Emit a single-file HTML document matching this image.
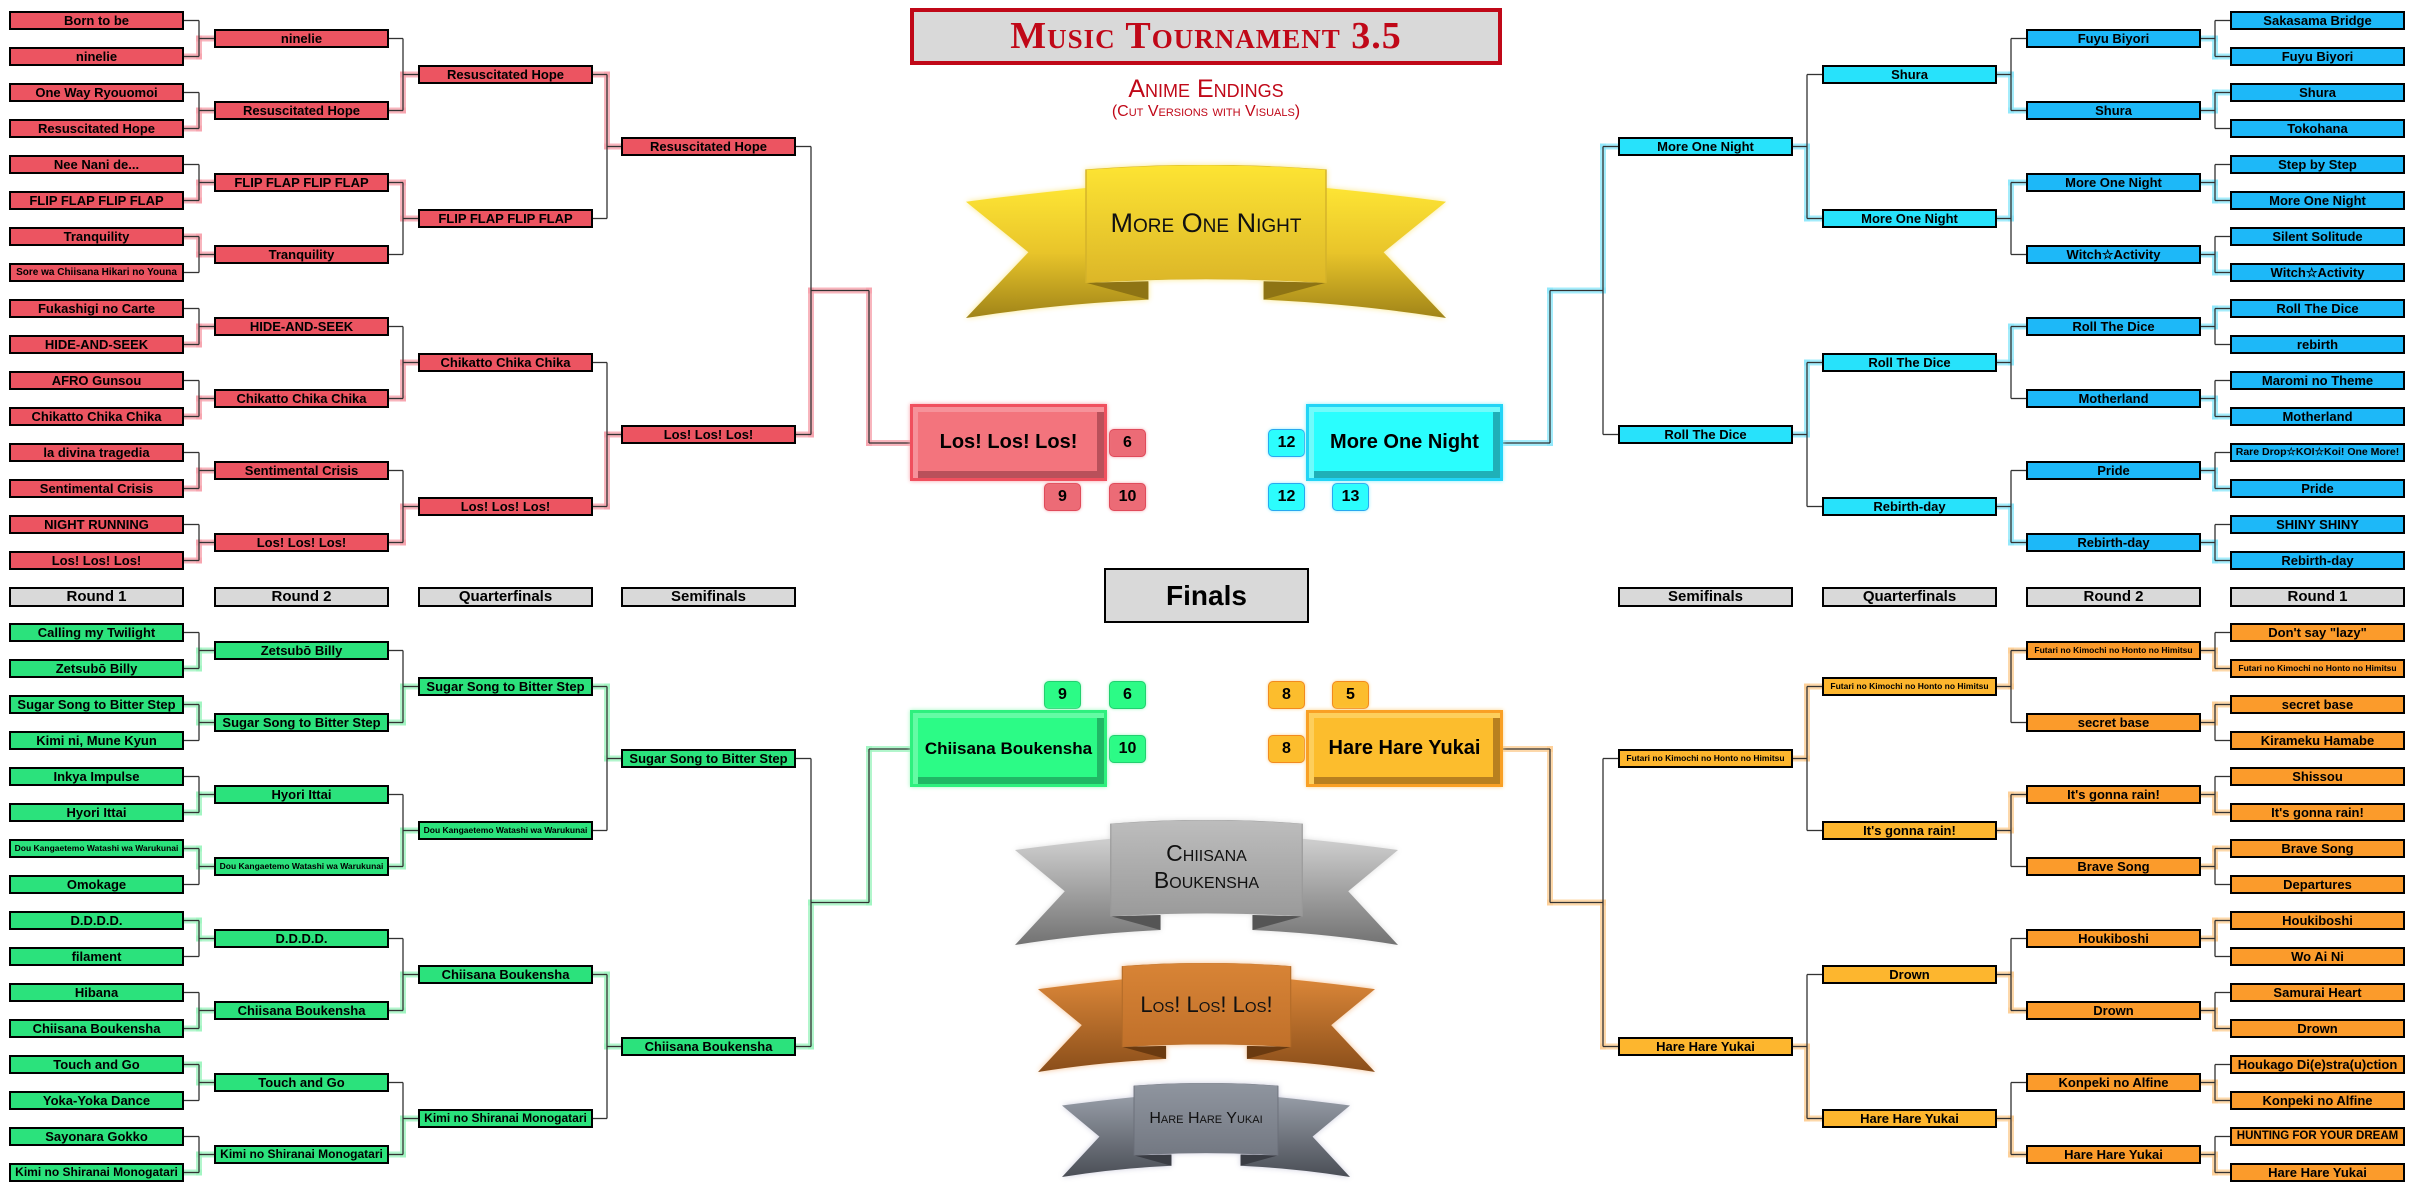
<!DOCTYPE html>
<html><head><meta charset="utf-8">
<style>
html,body{margin:0;padding:0;background:#fff;}
#root{position:relative;width:2418px;height:1192px;overflow:hidden;background:#fff;font-family:"Liberation Sans",sans-serif;}
.col{position:absolute;display:flex;flex-direction:column;width:175px;}
.b{height:19px;box-sizing:border-box;border:2px solid #000;width:175px;text-align:center;font:bold 13px/15px "Liberation Sans",sans-serif;white-space:nowrap;overflow:hidden;color:#000;position:relative;z-index:2;}
.r1{gap:17px}.r2{gap:53px}.qf{gap:125px}.sf{gap:269px}
.red .b{background:#ec5461}
.cy .b{background:#1db8f8}.cy2 .b{background:#27e2fb}
.gr .b{background:#2be27c}
.or .b{background:#fb9b2b}.or2 .b{background:#fdb62e}
.lab{position:absolute;top:587px;height:20px;width:175px;box-sizing:border-box;border:2px solid #000;background:#d9d9d9;text-align:center;font:bold 15px/16px "Liberation Sans",sans-serif;}
svg.lines{position:absolute;left:0;top:0;z-index:1;}
.fin{position:absolute;width:197px;height:77px;box-sizing:border-box;text-align:center;font:bold 20px/71px "Liberation Sans",sans-serif;z-index:2;}
.bd{position:absolute;width:37px;height:28px;box-sizing:border-box;border-radius:5px;text-align:center;font:bold 16px/26px "Liberation Sans",sans-serif;}
.title{position:absolute;left:910px;top:8px;width:592px;height:57px;box-sizing:border-box;border:4px solid #c00818;background:#d9d9d9;text-align:center;color:#c00818;font:bold 38px/49px "Liberation Serif",serif;font-variant:small-caps;letter-spacing:1px;}
.sub{position:absolute;left:910px;width:592px;text-align:center;color:#c00818;font-variant:small-caps;font-family:"Liberation Sans",sans-serif;}
.ban{position:absolute;}
.ban svg{position:absolute;left:0;top:0;width:100%;height:100%;}
.ban .t{position:absolute;text-align:center;font-family:"Liberation Sans",sans-serif;font-variant:small-caps;color:#111;}
</style></head><body><div id="root">

<div class="title">Music Tournament 3.5</div>
<div class="sub" style="top:75px;font-size:25px;line-height:28px;">Anime Endings</div>
<div class="sub" style="top:102px;font-size:16px;line-height:20px;">(Cut Versions with Visuals)</div>

<!-- TOP LEFT -->
<div class="col r1 red" id="tl1" style="left:9px;top:11px">
<div class="b">Born to be</div><div class="b">ninelie</div><div class="b">One Way Ryouomoi</div><div class="b">Resuscitated Hope</div><div class="b">Nee Nani de...</div><div class="b">FLIP FLAP FLIP FLAP</div><div class="b">Tranquility</div><div class="b">Sore wa Chiisana Hikari no Youna</div><div class="b">Fukashigi no Carte</div><div class="b">HIDE-AND-SEEK</div><div class="b">AFRO Gunsou</div><div class="b">Chikatto Chika Chika</div><div class="b">la divina tragedia</div><div class="b">Sentimental Crisis</div><div class="b">NIGHT RUNNING</div><div class="b">Los! Los! Los!</div></div>
<div class="col r2 red" id="tl2" style="left:214px;top:29px">
<div class="b">ninelie</div><div class="b">Resuscitated Hope</div><div class="b">FLIP FLAP FLIP FLAP</div><div class="b">Tranquility</div><div class="b">HIDE-AND-SEEK</div><div class="b">Chikatto Chika Chika</div><div class="b">Sentimental Crisis</div><div class="b">Los! Los! Los!</div></div>
<div class="col qf red" id="tl3" style="left:418px;top:65px">
<div class="b">Resuscitated Hope</div><div class="b">FLIP FLAP FLIP FLAP</div><div class="b">Chikatto Chika Chika</div><div class="b">Los! Los! Los!</div></div>
<div class="col sf red" id="tl4" style="left:621px;top:137px">
<div class="b">Resuscitated Hope</div><div class="b">Los! Los! Los!</div></div>

<!-- TOP RIGHT -->
<div class="col r1 cy" id="tr1" style="left:2230px;top:11px">
<div class="b">Sakasama Bridge</div><div class="b">Fuyu Biyori</div><div class="b">Shura</div><div class="b">Tokohana</div><div class="b">Step by Step</div><div class="b">More One Night</div><div class="b">Silent Solitude</div><div class="b">Witch☆Activity</div><div class="b">Roll The Dice</div><div class="b">rebirth</div><div class="b">Maromi no Theme</div><div class="b">Motherland</div><div class="b">Rare Drop☆KOI☆Koi! One More!</div><div class="b">Pride</div><div class="b">SHINY SHINY</div><div class="b">Rebirth-day</div></div>
<div class="col r2 cy" id="tr2" style="left:2026px;top:29px">
<div class="b">Fuyu Biyori</div><div class="b">Shura</div><div class="b">More One Night</div><div class="b">Witch☆Activity</div><div class="b">Roll The Dice</div><div class="b">Motherland</div><div class="b">Pride</div><div class="b">Rebirth-day</div></div>
<div class="col qf cy2" id="tr3" style="left:1822px;top:65px">
<div class="b">Shura</div><div class="b">More One Night</div><div class="b">Roll The Dice</div><div class="b">Rebirth-day</div></div>
<div class="col sf cy2" id="tr4" style="left:1618px;top:137px">
<div class="b">More One Night</div><div class="b">Roll The Dice</div></div>

<!-- BOTTOM LEFT -->
<div class="col r1 gr" id="bl1" style="left:9px;top:623px">
<div class="b">Calling my Twilight</div><div class="b">Zetsubō Billy</div><div class="b">Sugar Song to Bitter Step</div><div class="b">Kimi ni, Mune Kyun</div><div class="b">Inkya Impulse</div><div class="b">Hyori Ittai</div><div class="b">Dou Kangaetemo Watashi wa Warukunai</div><div class="b">Omokage</div><div class="b">D.D.D.D.</div><div class="b">filament</div><div class="b">Hibana</div><div class="b">Chiisana Boukensha</div><div class="b">Touch and Go</div><div class="b">Yoka-Yoka Dance</div><div class="b">Sayonara Gokko</div><div class="b">Kimi no Shiranai Monogatari</div></div>
<div class="col r2 gr" id="bl2" style="left:214px;top:641px">
<div class="b">Zetsubō Billy</div><div class="b">Sugar Song to Bitter Step</div><div class="b">Hyori Ittai</div><div class="b">Dou Kangaetemo Watashi wa Warukunai</div><div class="b">D.D.D.D.</div><div class="b">Chiisana Boukensha</div><div class="b">Touch and Go</div><div class="b">Kimi no Shiranai Monogatari</div></div>
<div class="col qf gr" id="bl3" style="left:418px;top:677px">
<div class="b">Sugar Song to Bitter Step</div><div class="b">Dou Kangaetemo Watashi wa Warukunai</div><div class="b">Chiisana Boukensha</div><div class="b">Kimi no Shiranai Monogatari</div></div>
<div class="col sf gr" id="bl4" style="left:621px;top:749px">
<div class="b">Sugar Song to Bitter Step</div><div class="b">Chiisana Boukensha</div></div>

<!-- BOTTOM RIGHT -->
<div class="col r1 or" id="br1" style="left:2230px;top:623px">
<div class="b">Don't say "lazy"</div><div class="b">Futari no Kimochi no Honto no Himitsu</div><div class="b">secret base</div><div class="b">Kirameku Hamabe</div><div class="b">Shissou</div><div class="b">It's gonna rain!</div><div class="b">Brave Song</div><div class="b">Departures</div><div class="b">Houkiboshi</div><div class="b">Wo Ai Ni</div><div class="b">Samurai Heart</div><div class="b">Drown</div><div class="b">Houkago Di(e)stra(u)ction</div><div class="b">Konpeki no Alfine</div><div class="b">HUNTING FOR YOUR DREAM</div><div class="b">Hare Hare Yukai</div></div>
<div class="col r2 or" id="br2" style="left:2026px;top:641px">
<div class="b">Futari no Kimochi no Honto no Himitsu</div><div class="b">secret base</div><div class="b">It's gonna rain!</div><div class="b">Brave Song</div><div class="b">Houkiboshi</div><div class="b">Drown</div><div class="b">Konpeki no Alfine</div><div class="b">Hare Hare Yukai</div></div>
<div class="col qf or2" id="br3" style="left:1822px;top:677px">
<div class="b">Futari no Kimochi no Honto no Himitsu</div><div class="b">It's gonna rain!</div><div class="b">Drown</div><div class="b">Hare Hare Yukai</div></div>
<div class="col sf or2" id="br4" style="left:1618px;top:749px">
<div class="b">Futari no Kimochi no Honto no Himitsu</div><div class="b">Hare Hare Yukai</div></div>

<!-- labels -->
<div class="lab" style="left:9px">Round 1</div>
<div class="lab" style="left:214px">Round 2</div>
<div class="lab" style="left:418px">Quarterfinals</div>
<div class="lab" style="left:621px">Semifinals</div>
<div class="lab" style="left:1618px">Semifinals</div>
<div class="lab" style="left:1822px">Quarterfinals</div>
<div class="lab" style="left:2026px">Round 2</div>
<div class="lab" style="left:2230px">Round 1</div>
<div class="lab" style="left:1104px;top:568px;width:205px;height:55px;font-size:28px;line-height:51px;">Finals</div>

<svg class="lines" id="lines" width="2418" height="1192"></svg>

<!-- final boxes -->
<div class="fin" style="left:910px;top:404px;background:#f3747d;border:3px solid #f0505e;box-shadow:0 0 4px #f7a0a8, inset 5px 5px 0 #f6929a, inset -7px -7px 0 #b9505a;">Los! Los! Los!</div>
<div class="fin" style="left:1306px;top:404px;background:#2afefe;border:3px solid #22d4f6;box-shadow:0 0 4px #8ef0fb, inset 5px 5px 0 #70fbfb, inset -7px -7px 0 #1fb0b8;">More One Night</div>
<div class="fin" style="left:910px;top:710px;background:#2cfb86;border:3px solid #2ef07e;box-shadow:0 0 4px #9ff7c0, inset 5px 5px 0 #64fba4, inset -7px -7px 0 #20b865;font-size:17px;">Chiisana Boukensha</div>
<div class="fin" style="left:1306px;top:710px;background:#fcbd2d;border:3px solid #f9a024;box-shadow:0 0 4px #fbd38a, inset 5px 5px 0 #fdcf5c, inset -7px -7px 0 #b8801f;">Hare Hare Yukai</div>

<!-- badges -->
<div class="bd" style="left:1109px;top:429px;background:#ec6b76;border:1px solid #e04a5a;box-shadow:0 0 3px #f5a5ad">6</div>
<div class="bd" style="left:1044px;top:483px;background:#ec6b76;border:1px solid #e04a5a;box-shadow:0 0 3px #f5a5ad">9</div>
<div class="bd" style="left:1109px;top:483px;background:#ec6b76;border:1px solid #e04a5a;box-shadow:0 0 3px #f5a5ad">10</div>
<div class="bd" style="left:1268px;top:429px;background:#2cfdfd;border:1px solid #28a8f0;box-shadow:0 0 3px #8eeefc">12</div>
<div class="bd" style="left:1268px;top:483px;background:#2cfdfd;border:1px solid #28a8f0;box-shadow:0 0 3px #8eeefc">12</div>
<div class="bd" style="left:1332px;top:483px;background:#2cfdfd;border:1px solid #28a8f0;box-shadow:0 0 3px #8eeefc">13</div>
<div class="bd" style="left:1044px;top:681px;background:#2cfb86;border:1px solid #22d070;box-shadow:0 0 3px #9ff7c0">9</div>
<div class="bd" style="left:1109px;top:681px;background:#2cfb86;border:1px solid #22d070;box-shadow:0 0 3px #9ff7c0">6</div>
<div class="bd" style="left:1109px;top:735px;background:#2cfb86;border:1px solid #22d070;box-shadow:0 0 3px #9ff7c0">10</div>
<div class="bd" style="left:1268px;top:681px;background:#fcbd2d;border:1px solid #f28a1e;box-shadow:0 0 3px #fbd38a">8</div>
<div class="bd" style="left:1332px;top:681px;background:#fcbd2d;border:1px solid #f28a1e;box-shadow:0 0 3px #fbd38a">5</div>
<div class="bd" style="left:1268px;top:735px;background:#fcbd2d;border:1px solid #f28a1e;box-shadow:0 0 3px #fbd38a">8</div>

<!-- banners -->
<div class="ban" style="left:966px;top:165px;width:480px;height:153px;filter:drop-shadow(0 0 3px #fbe88a);">
<svg viewBox="0 0 100 100" preserveAspectRatio="none"><defs>
<linearGradient id="gy" x1="0" y1="0" x2="0" y2="1"><stop offset="0" stop-color="#fde434"/><stop offset="0.5" stop-color="#e8c42a"/><stop offset="1" stop-color="#a08418"/></linearGradient>
<linearGradient id="gyp" x1="0" y1="0" x2="0" y2="1"><stop offset="0" stop-color="#fde433"/><stop offset="1" stop-color="#dcb628"/></linearGradient></defs>
<path d="M0,24 Q12,19 25,15 L25,77 L38,77 L38,88 Q18,91 0,100 L13,57 Z" fill="url(#gy)"/>
<path d="M100,24 Q88,19 75,15 L75,77 L62,77 L62,88 Q82,91 100,100 L87,57 Z" fill="url(#gy)"/>
<path d="M25,77 L38,76 L38,88 Z" fill="#8e7414"/><path d="M75,77 L62,76 L62,88 Z" fill="#8e7414"/>
<path d="M25,3 Q50,-3 75,3 L75,77 Q50,72 25,77 Z" fill="url(#gyp)" stroke="#d4b22a" stroke-width="0.3"/>
</svg><div class="t" style="left:0;width:100%;top:43px;font-size:27px;line-height:30px;">More One Night</div></div>

<div class="ban" style="left:1015px;top:820px;width:383px;height:125px;filter:drop-shadow(0 0 3px #ddd);">
<svg viewBox="0 0 100 100" preserveAspectRatio="none"><defs>
<linearGradient id="gs" x1="0" y1="0" x2="0" y2="1"><stop offset="0" stop-color="#cfcfcf"/><stop offset="1" stop-color="#727272"/></linearGradient>
<linearGradient id="gsp" x1="0" y1="0" x2="0" y2="1"><stop offset="0" stop-color="#bdbdbd"/><stop offset="1" stop-color="#9a9a9a"/></linearGradient></defs>
<path d="M0,24 Q12,19 25,15 L25,77 L38,77 L38,88 Q18,91 0,100 L13,57 Z" fill="url(#gs)"/>
<path d="M100,24 Q88,19 75,15 L75,77 L62,77 L62,88 Q82,91 100,100 L87,57 Z" fill="url(#gs)"/>
<path d="M25,77 L38,76 L38,88 Z" fill="#555"/><path d="M75,77 L62,76 L62,88 Z" fill="#555"/>
<path d="M25,3 Q50,-3 75,3 L75,77 Q50,72 25,77 Z" fill="url(#gsp)" stroke="#999" stroke-width="0.3"/>
</svg><div class="t" style="left:0;width:100%;top:20px;font-size:23px;line-height:27px;">Chiisana<br>Boukensha</div></div>

<div class="ban" style="left:1038px;top:963px;width:337px;height:109px;filter:drop-shadow(0 0 3px #f5c090);">
<svg viewBox="0 0 100 100" preserveAspectRatio="none"><defs>
<linearGradient id="gb" x1="0" y1="0" x2="0" y2="1"><stop offset="0" stop-color="#da8638"/><stop offset="1" stop-color="#8a4e1a"/></linearGradient>
<linearGradient id="gbp" x1="0" y1="0" x2="0" y2="1"><stop offset="0" stop-color="#d88436"/><stop offset="1" stop-color="#c0702a"/></linearGradient></defs>
<path d="M0,24 Q12,19 25,15 L25,77 L38,77 L38,88 Q18,91 0,100 L13,57 Z" fill="url(#gb)"/>
<path d="M100,24 Q88,19 75,15 L75,77 L62,77 L62,88 Q82,91 100,100 L87,57 Z" fill="url(#gb)"/>
<path d="M25,77 L38,76 L38,88 Z" fill="#6a3a10"/><path d="M75,77 L62,76 L62,88 Z" fill="#6a3a10"/>
<path d="M25,3 Q50,-3 75,3 L75,77 Q50,72 25,77 Z" fill="url(#gbp)" stroke="#b06a28" stroke-width="0.3"/>
</svg><div class="t" style="left:0;width:100%;top:29px;font-size:22px;line-height:26px;">Los! Los! Los!</div></div>

<div class="ban" style="left:1062px;top:1083px;width:288px;height:94px;filter:drop-shadow(0 0 3px #ccd);">
<svg viewBox="0 0 100 100" preserveAspectRatio="none"><defs>
<linearGradient id="gd" x1="0" y1="0" x2="0" y2="1"><stop offset="0" stop-color="#959ba5"/><stop offset="1" stop-color="#4a4e56"/></linearGradient>
<linearGradient id="gdp" x1="0" y1="0" x2="0" y2="1"><stop offset="0" stop-color="#8f959f"/><stop offset="1" stop-color="#737882"/></linearGradient></defs>
<path d="M0,24 Q12,19 25,15 L25,77 L38,77 L38,88 Q18,91 0,100 L13,57 Z" fill="url(#gd)"/>
<path d="M100,24 Q88,19 75,15 L75,77 L62,77 L62,88 Q82,91 100,100 L87,57 Z" fill="url(#gd)"/>
<path d="M25,77 L38,76 L38,88 Z" fill="#3a3d44"/><path d="M75,77 L62,76 L62,88 Z" fill="#3a3d44"/>
<path d="M25,3 Q50,-3 75,3 L75,77 Q50,72 25,77 Z" fill="url(#gdp)" stroke="#6a6e78" stroke-width="0.3"/>
</svg><div class="t" style="left:0;width:100%;top:26px;font-size:16px;line-height:20px;">Hare Hare Yukai</div></div>

</div>
<script>
(function(){
// fit text
document.querySelectorAll('.b').forEach(function(b){
  var fs=13;
  var r=document.createRange();r.selectNodeContents(b);
  while(r.getBoundingClientRect().width>166 && fs>6){fs-=0.5;b.style.fontSize=fs+'px';}
});
var svg=document.getElementById('lines');
var glows=[],darks=[];
function L(x1,y1,x2,y2,g){darks.push([x1,y1,x2,y2]);if(g)glows.push([x1,y1,x2,y2,g]);}
function names(id){return Array.prototype.map.call(document.getElementById(id).children,function(e){return e.textContent;});}
function round(q,k,childEdge,parEdge,xm,cBase,cStep,pBase,pStep,g){
  var ch=names(q+k),pa=names(q+(k+1));
  for(var i=0;i<pa.length;i++){
    var y1=cBase+cStep*2*i,y2=y1+cStep,yp=pBase+pStep*i;
    var w1=ch[2*i]===pa[i];
    L(childEdge,y1,xm,y1,w1?g:null);
    L(childEdge,y2,xm,y2,!w1?g:null);
    L(xm,y1,xm,yp,w1?g:null);
    L(xm,yp,xm,y2,!w1?g:null);
    L(xm,yp,parEdge,yp,g);
  }
}
var sets=[['tl',20.5,1,'#f7a3ad'],['tr',20.5,-1,'#8ee8fb'],['bl',632.5,1,'#9ff5c0'],['br',632.5,-1,'#fdcf95']];
sets.forEach(function(s){
  var q=s[0],b=s[1],d=s[2],g=s[3];
  if(d===1){
    round(q,1,184,214,199,b,36,b+18,72,g);
    round(q,2,389,418,403,b+18,72,b+54,144,g);
    round(q,3,593,621,607,b+54,144,b+126,288,g);
  }else{
    round(q,1,2230,2201,2215,b,36,b+18,72,g);
    round(q,2,2026,1997,2011,b+18,72,b+54,144,g);
    round(q,3,1822,1793,1807,b+54,144,b+126,288,g);
  }
});
function fin(xs,xm,xj,xf,y1,y2,yf,winTop,g){
  var ym=(y1+y2)/2;
  L(xs,y1,xm,y1,winTop?g:null);L(xs,y2,xm,y2,!winTop?g:null);
  L(xm,y1,xm,ym,winTop?g:null);L(xm,ym,xm,y2,!winTop?g:null);
  L(xm,ym,xj,ym,g);L(xj,ym,xj,yf,g);L(xj,yf,xf,yf,g);
}
fin(796,811,869,910,146.5,434.5,443,false,'#f7a3ad');
fin(1618,1603,1550,1503,146.5,434.5,443,true,'#8ee8fb');
fin(796,811,869,910,758.5,1046.5,749,false,'#9ff5c0');
fin(1618,1603,1550,1503,758.5,1046.5,749,false,'#fdcf95');
var h='';
glows.forEach(function(l){h+='<line x1="'+l[0]+'" y1="'+l[1]+'" x2="'+l[2]+'" y2="'+l[3]+'" stroke="'+l[4]+'" stroke-width="6" stroke-linecap="square" opacity="0.8"/>';});
darks.forEach(function(l){h+='<line x1="'+l[0]+'" y1="'+l[1]+'" x2="'+l[2]+'" y2="'+l[3]+'" stroke="#333" stroke-width="1.3"/>';});
svg.innerHTML=h;
})();
</script>
</body></html>
